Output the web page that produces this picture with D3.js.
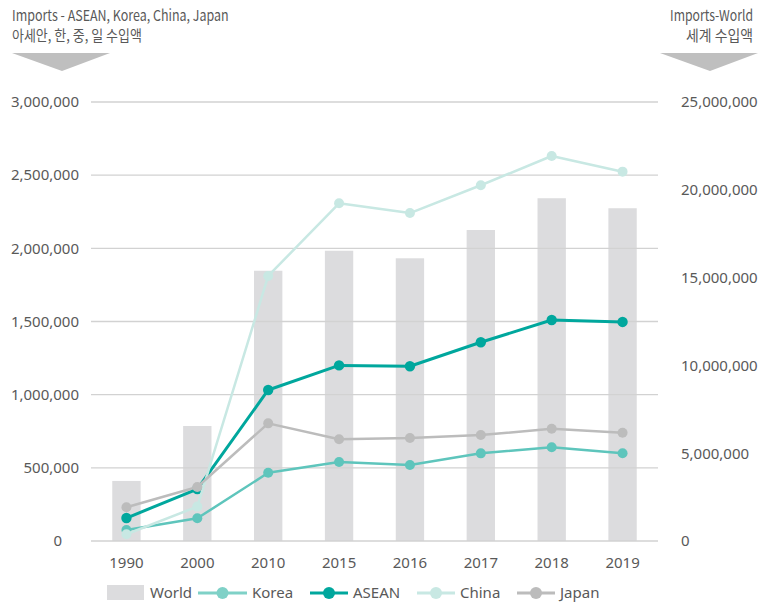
<!DOCTYPE html>
<html>
<head>
<meta charset="utf-8">
<script src="https://cdn.jsdelivr.net/npm/d3@7"></script>
<style>
  body { margin: 0; background: #ffffff; }
  svg { display: block; }
</style>
</head>
<body>
<svg id="chart" width="760" height="603"></svg>
<script>
// Import values by year
const years = ["1990", "2000", "2010", "2015", "2016", "2017", "2018", "2019"];
const world = [3420000, 6550000, 15390000, 16530000, 16100000, 17710000, 19520000, 18950000];
const korea = [75000, 155000, 466000, 540000, 519000, 599000, 641000, 600000];
const asean = [157000, 355000, 1032000, 1200000, 1194000, 1358000, 1510000, 1497000];
const china = [46000, 235000, 1811000, 2308000, 2241000, 2431000, 2631000, 2524000];
const japan = [231000, 369000, 804000, 695000, 704000, 724000, 767000, 740000];

const leftTicks = [0, 500000, 1000000, 1500000, 2000000, 2500000, 3000000];
const rightTicks = [0, 5000000, 10000000, 15000000, 20000000, 25000000];

const series = [
  { name: "Korea", values: korea, color: "#5ec5bc", legendColor: "#7fd1c7", width: 2.5, r: 5 },
  { name: "ASEAN", values: asean, color: "#00a79d", legendColor: "#00a79d", width: 3, r: 5.2 },
  { name: "China", values: china, color: "#c8e8e3", legendColor: "#c8e8e3", width: 2.5, r: 5 },
  { name: "Japan", values: japan, color: "#bcbcbc", legendColor: "#bcbcbc", width: 2.5, r: 5 }
];

const svg = d3.select("#chart");
const textColor = "#595959";
const numFont = "'Noto Sans', 'Open Sans', sans-serif";
const titleFont = "'Noto Sans CJK KR', 'Noto Sans', sans-serif";

const plot = { left: 91, right: 658, top: 102, bottom: 541 };

const x = d3.scaleBand()
  .domain(years)
  .range([plot.left, plot.right])
  .paddingInner(0.6)
  .paddingOuter(0.3);

const yL = d3.scaleLinear().domain([0, 3000000]).range([plot.bottom, plot.top]);
const yR = d3.scaleLinear().domain([0, 25000000]).range([plot.bottom, plot.top]);
const fmt = d3.format(",");

// World bars (right axis)
svg.append("g")
  .selectAll("rect")
  .data(years)
  .join("rect")
  .attr("x", d => x(d))
  .attr("width", x.bandwidth())
  .attr("y", (d, i) => yR(world[i]))
  .attr("height", (d, i) => yR(0) - yR(world[i]))
  .attr("fill", "#dcdcde");

// Horizontal gridlines
svg.append("g")
  .selectAll("line")
  .data(leftTicks)
  .join("line")
  .attr("x1", plot.left)
  .attr("x2", plot.right)
  .attr("y1", d => yL(d))
  .attr("y2", d => yL(d))
  .attr("stroke", "#d2d2d2")
  .attr("stroke-width", 1.3);

// Left axis
const gL = svg.append("g")
  .attr("transform", `translate(${plot.left},0)`)
  .call(d3.axisLeft(yL).tickValues(leftTicks).tickSize(0).tickPadding(12).tickFormat(fmt));
gL.select(".domain").remove();
gL.selectAll("text")
  .attr("fill", textColor)
  .style("font-family", numFont)
  .style("font-size", "15px")
  .attr("dx", d => d === 0 ? -17 : 0);

// Right axis
const gR = svg.append("g")
  .attr("transform", `translate(${plot.right},0)`)
  .call(d3.axisRight(yR).tickValues(rightTicks).tickSize(0).tickPadding(23).tickFormat(fmt));
gR.select(".domain").remove();
gR.selectAll("text")
  .attr("fill", textColor)
  .style("font-family", numFont)
  .style("font-size", "15px");

// Bottom axis
const gX = svg.append("g")
  .attr("transform", `translate(0,${plot.bottom})`)
  .call(d3.axisBottom(x).tickSize(0).tickPadding(16));
gX.select(".domain").remove();
gX.selectAll("text")
  .attr("fill", textColor)
  .style("font-family", numFont)
  .style("font-size", "15px");

// Series lines and markers (left axis)
const cx = d => x(d) + x.bandwidth() / 2;
const line = d3.line()
  .x((v, i) => cx(years[i]))
  .y(v => yL(v));

series.forEach(s => {
  const g = svg.append("g");
  g.append("path")
    .datum(s.values)
    .attr("d", line)
    .attr("fill", "none")
    .attr("stroke", s.color)
    .attr("stroke-width", s.width)
    .attr("stroke-linejoin", "round");
  g.selectAll("circle")
    .data(s.values)
    .join("circle")
    .attr("cx", (v, i) => cx(years[i]))
    .attr("cy", v => yL(v))
    .attr("r", s.r)
    .attr("fill", s.color);
});

// Axis titles (horizontally condensed) with downward arrows
const titles = [
  { text: "Imports - ASEAN, Korea, China, Japan", x: 12, y: 21, len: 217, anchor: "start" },
  { text: "아세안, 한, 중, 일 수입액", x: 12, y: 41, len: 130, anchor: "start" },
  { text: "Imports-World", x: 753, y: 21, len: 83, anchor: "end" },
  { text: "세계 수입액", x: 753, y: 41, len: 67, anchor: "end" }
];
svg.append("g")
  .selectAll("text")
  .data(titles)
  .join("text")
  .attr("text-anchor", d => d.anchor)
  .attr("fill", textColor)
  .style("font-family", titleFont)
  .style("font-size", "15px")
  .text(d => d.text)
  .attr("transform", function(d) {
    const sx = d.len / this.getComputedTextLength();
    return `translate(${d.x},${d.y}) scale(${sx},1)`;
  });

const arrows = [
  [[12, 53], [110, 53], [62, 71]],
  [[660, 53], [758, 53], [710, 71]]
];
svg.append("g")
  .selectAll("path")
  .data(arrows)
  .join("path")
  .attr("d", d => "M" + d.map(p => p.join(",")).join("L") + "Z")
  .attr("fill", "#bfbfbf");

// Legend
const legendY = 593;
const legend = svg.append("g");
legend.append("rect")
  .attr("x", 107).attr("y", legendY - 8)
  .attr("width", 37).attr("height", 15)
  .attr("fill", "#dcdcde");
legend.append("text")
  .attr("x", 150).attr("y", legendY)
  .attr("dy", "0.35em")
  .attr("fill", textColor)
  .style("font-family", numFont)
  .style("font-size", "15px")
  .text("World");

const legendStarts = [198, 310, 417, 517];
const legendLineLen = [49, 38, 38, 38];
series.forEach((s, i) => {
  const x0 = legendStarts[i];
  const len = legendLineLen[i];
  const g = legend.append("g");
  g.append("line")
    .attr("x1", x0).attr("x2", x0 + len)
    .attr("y1", legendY).attr("y2", legendY)
    .attr("stroke", s.legendColor).attr("stroke-width", 3);
  g.append("circle")
    .attr("cx", x0 + len / 2).attr("cy", legendY)
    .attr("r", 6).attr("fill", s.legendColor);
  g.append("text")
    .attr("x", x0 + len + 5).attr("y", legendY)
    .attr("dy", "0.35em")
    .attr("fill", textColor)
    .style("font-family", numFont)
    .style("font-size", "15px")
    .text(s.name);
});
</script>
</body>
</html>
